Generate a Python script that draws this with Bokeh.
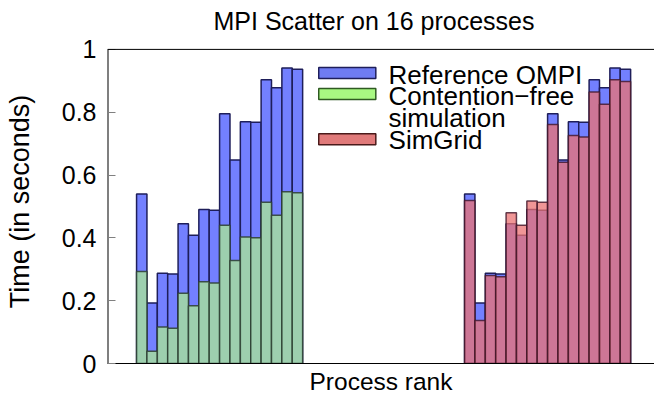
from bokeh.plotting import figure
from bokeh.models import Range1d, FixedTicker, Span
from bokeh.embed import file_html
from bokeh.resources import INLINE
from bokeh.core.properties import value

# Completion time per process rank (seconds)
ranks = list(range(16))
reference_ompi = [0.540, 0.193, 0.287, 0.285, 0.445, 0.408, 0.490, 0.488,
                  0.795, 0.648, 0.770, 0.768, 0.903, 0.878, 0.941, 0.937]
contention_free = [0.293, 0.039, 0.116, 0.112, 0.224, 0.184, 0.260, 0.256,
                   0.440, 0.328, 0.403, 0.400, 0.513, 0.472, 0.547, 0.544]
simgrid = [0.519, 0.137, 0.280, 0.276, 0.480, 0.440, 0.517, 0.513,
           0.761, 0.641, 0.726, 0.721, 0.864, 0.825, 0.903, 0.898]

y_ticks = [0, 0.2, 0.4, 0.6, 0.8, 1]
y_tick_labels = ["0", "0.2", "0.4", "0.6", "0.8", "1"]

legend_labels = ["Reference OMPI", "Contention\u2212free", "simulation", "SimGrid"]
title_text = "MPI Scatter on 16 processes"

FONT = "Liberation Sans"
BLUE, BLUE_EDGE = "#7380ff", "#1e1e5a"
GREEN, GREEN_EDGE = "#9dcfae", "#2c3e30"
RED, RED_EDGE = "#eb7373", "#3e1428"

# second histogram block sits to the right of the first one
second_block = 31.6
left_x = [r for r in ranks]
right_x = [r + second_block for r in ranks]

X_MIN, X_MAX = -3.3, 49.4
# the canvas runs a little above the 1 s border line to leave room for the title
p = figure(width=654, height=397, output_backend="svg", toolbar_location=None,
           x_range=Range1d(X_MIN, X_MAX), y_range=Range1d(0, 1.0315),
           min_border_left=107, min_border_right=0,
           min_border_top=39, min_border_bottom=31)

p.title.text = title_text
p.title.align = "left"
p.title.offset = 106
p.title.text_font = FONT
p.title.text_font_size = "25px"
p.title.text_font_style = "normal"
p.title.text_color = "black"
p.title.standoff = 9

# left block: measured times with the contention-free estimate over them
p.vbar(x=left_x, top=reference_ompi, width=1, bottom=0,
       fill_color=BLUE, line_color=BLUE_EDGE, line_width=1.5)
p.vbar(x=left_x, top=contention_free, width=1, bottom=0,
       fill_color=GREEN, line_color=GREEN_EDGE, line_width=1.5, line_alpha=0.85)

# right block: measured times with the SimGrid prediction over them
p.vbar(x=right_x, top=reference_ompi, width=1, bottom=0,
       fill_color=BLUE, line_color=BLUE_EDGE, line_width=1.5)
p.vbar(x=right_x, top=simgrid, width=1, bottom=0,
       fill_color=RED, fill_alpha=0.75, line_color=RED_EDGE, line_width=1.5, line_alpha=0.8)

# key
key_x, key_w, key_h = 19.8, 5.5, 0.035
p.rect(x=[key_x], y=[0.925], width=key_w, height=key_h,
       fill_color="#6f7cf2", line_color=BLUE_EDGE, line_width=1.5)
p.rect(x=[key_x], y=[0.858], width=key_w, height=key_h,
       fill_color="#a8f882", line_color="#2f5a22", line_width=1.5)
p.rect(x=[key_x], y=[0.714], width=key_w, height=key_h,
       fill_color="#e07a7a", line_color="#4a1a1a", line_width=1.5)
p.text(x=[23.78] * 4, y=[0.919, 0.853, 0.783, 0.710], text=legend_labels,
       text_font=value(FONT), text_font_size="26px", text_color="black",
       text_baseline="middle", text_align="left")

# border: top line at 1 s and a left edge from 0 to 1 s
p.add_layout(Span(location=1, dimension="width", line_color="black", line_width=1))
p.segment(x0=[X_MIN], y0=[0], x1=[X_MIN], y1=[1], line_color="black", line_width=2)
p.outline_line_color = None
p.xgrid.visible = False
p.ygrid.visible = False

p.yaxis.ticker = FixedTicker(ticks=y_ticks)
p.yaxis.major_label_overrides = {t: s for t, s in zip(y_ticks, y_tick_labels)}
p.yaxis.major_tick_in = 8
p.yaxis.major_tick_out = 0
p.yaxis.minor_tick_line_color = None
p.yaxis.major_tick_line_color = "#808080"
p.yaxis.axis_line_color = None
p.yaxis.major_label_text_font = FONT
p.yaxis.major_label_text_font_size = "25px"
p.yaxis.major_label_text_color = "black"
p.yaxis.major_label_standoff = 11
p.yaxis.axis_label = "Time (in seconds)"
p.yaxis.axis_label_text_font = FONT
p.yaxis.axis_label_text_font_size = "27px"
p.yaxis.axis_label_text_font_style = "normal"
p.yaxis.axis_label_text_color = "black"
p.yaxis.axis_label_standoff = 24

p.xaxis.ticker = FixedTicker(ticks=[])
p.xaxis.major_tick_line_color = None
p.xaxis.minor_tick_line_color = None
p.xaxis.major_label_text_font_size = "0px"
p.xaxis.major_label_standoff = 0
p.xaxis.axis_line_color = "black"
p.xaxis.axis_label = "Process rank"
p.xaxis.axis_label_text_font = FONT
p.xaxis.axis_label_text_font_size = "24.5px"
p.xaxis.axis_label_text_font_style = "normal"
p.xaxis.axis_label_text_color = "black"
p.xaxis.axis_label_standoff = 4

open("out.html", "w").write(file_html(p, INLINE))
